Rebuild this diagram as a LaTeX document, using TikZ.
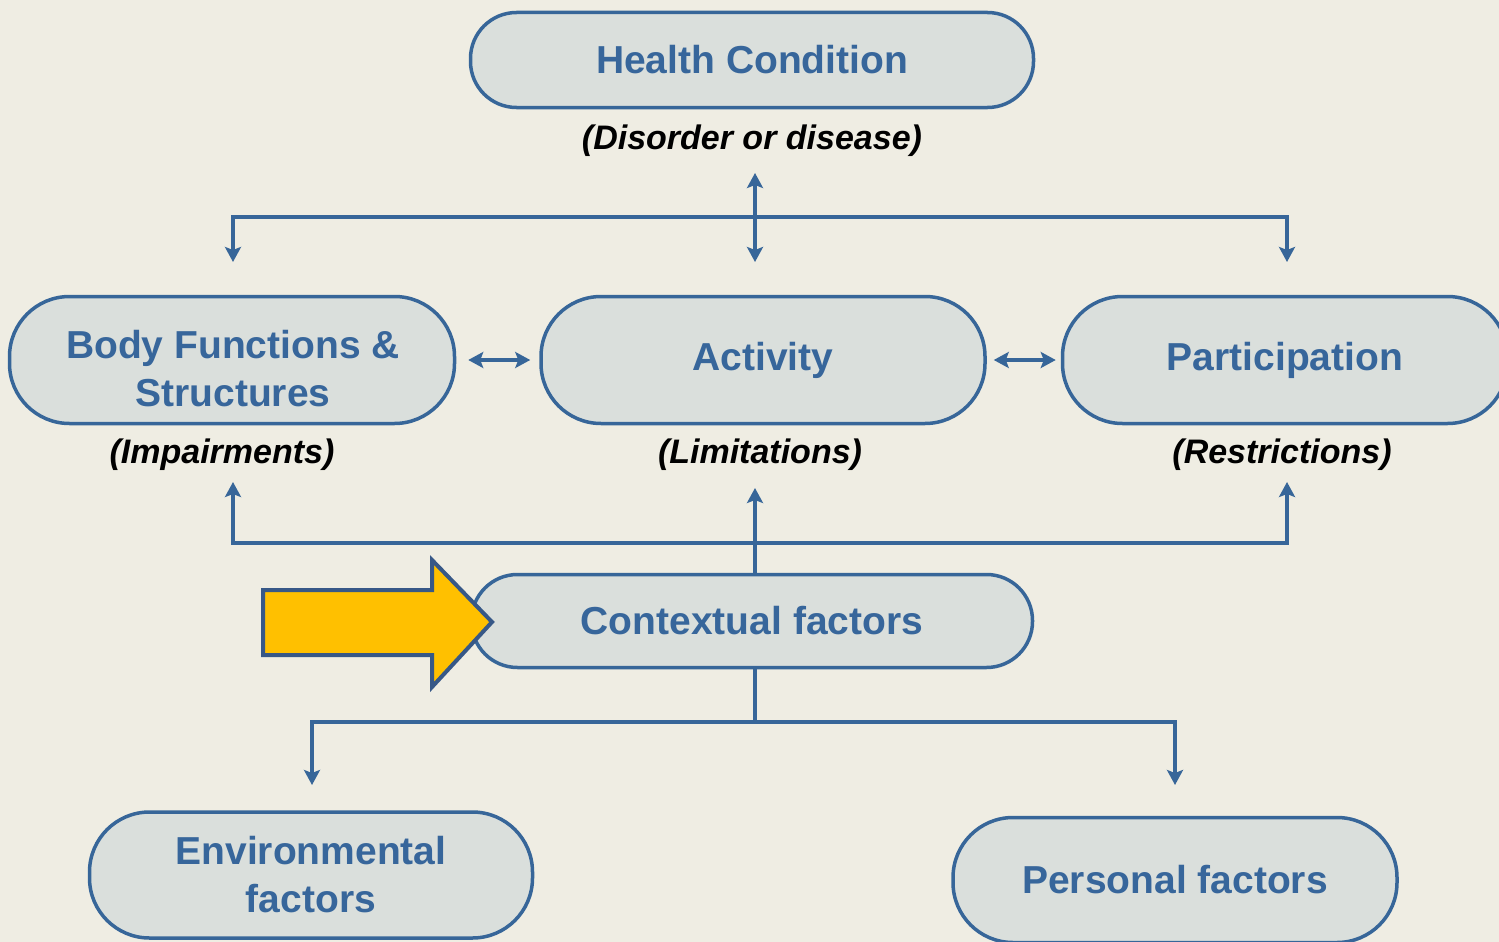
\documentclass[tikz,border=0pt]{standalone}
\usepackage{fontspec}
\setmainfont{Liberation Sans}
\usetikzlibrary{arrows.meta}
\definecolor{bg}{RGB}{239,237,227}
\definecolor{boxfill}{RGB}{218,223,220}
\definecolor{edge}{RGB}{55,102,153}
\definecolor{txt}{RGB}{55,102,155}
\definecolor{gold}{RGB}{255,192,0}
\definecolor{arrowedge}{RGB}{55,88,135}
\begin{document}
\begin{tikzpicture}[x=1pt,y=-1pt,
  boxtext/.style={text=txt, font=\fontsize{39}{48}\selectfont\bfseries, align=center, inner sep=0pt},
  box/.style={boxtext, draw=edge, line width=3.5pt, fill=boxfill, rounded corners=46pt},
  tallbox/.style={box, rounded corners=60pt},
  lab/.style={font=\fontsize{34}{40}\selectfont\bfseries\itshape, text=black, inner sep=0pt},
  conn/.style={draw=edge, line width=3.5pt},
  tip/.style={-{Stealth[length=15pt,width=16pt,inset=3pt]}},
  dtip/.style={{Stealth[length=15pt,width=16pt,inset=3pt]}-{Stealth[length=15pt,width=16pt,inset=3pt]}},
]
\fill[bg] (0,0) rectangle (1499,942);
\useasboundingbox (0,0) rectangle (1499,942);

% boxes
\node[box, minimum width=563pt, minimum height=95pt] (hc) at (752,60) {Health Condition};
\node[lab] (hcl) at (752,141) {(Disorder or disease)};

\node[tallbox, minimum width=445pt, minimum height=127pt] (bf) at (232,360) {};
\node[boxtext] (bft) at (233,369) {Body Functions \&\\Structures};
\node[tallbox, minimum width=444pt, minimum height=127pt] (act) at (763,360) {\raisebox{-3pt}{Activity}};
\node[tallbox, minimum width=445pt, minimum height=127pt] (par) at (1285,360) {\raisebox{-3pt}{Participation}};

\node[lab] (bfl) at (222,455) {(Impairments)};
\node[lab] (actl) at (760,455) {(Limitations)};
\node[lab] (parl) at (1282,455) {(Restrictions)};

\node[box, minimum width=561pt, minimum height=93pt] (cf) at (752,621) {Contextual factors};

\node[tallbox, minimum width=443pt, minimum height=126pt] (env) at (311,875) {Environmental\\factors};
\node[tallbox, minimum width=444pt, minimum height=125pt] (pf) at (1175,880) {Personal factors};

% coordinates
\coordinate (t0) at (755,173);
\coordinate (t1) at (755,262);
\coordinate (tj) at (755,217);
\coordinate (tl) at (233,262);
\coordinate (tr) at (1287,262);
\coordinate (bj) at (755,543);
\coordinate (bl) at (233,482);
\coordinate (bm) at (755,488);
\coordinate (br) at (1287,482);
\coordinate (cj) at (755,722);
\coordinate (el) at (312,785);
\coordinate (pl) at (1175,785);

% top connectors
\draw[conn, dtip] (t0) -- (t1);
\draw[conn, tip] (tj) -| (tl);
\draw[conn, tip] (tj) -| (tr);

% side double arrows
\draw[conn, dtip] ([xshift=12pt]bf.east) -- ([xshift=-9pt]act.west);
\draw[conn, dtip] ([xshift=7pt]act.east) -- ([xshift=-5pt]par.west);

% bottom connectors
\draw[conn, tip] (cf.north -| bj) -- (bm);
\draw[conn, tip] (bj) -| (bl);
\draw[conn, tip] (bj) -| (br);

\draw[conn] (cf.south -| cj) -- (cj);
\draw[conn, tip] (cj) -| (el);
\draw[conn, tip] (cj) -| (pl);

% yellow arrow
\draw[draw=arrowedge, fill=gold, line width=4pt, miter limit=10]
  (263,590) -- (432,590) -- (432,560) -- (492,622) -- (432,687) -- (432,655) -- (263,655) -- cycle;
\end{tikzpicture}
\end{document}
